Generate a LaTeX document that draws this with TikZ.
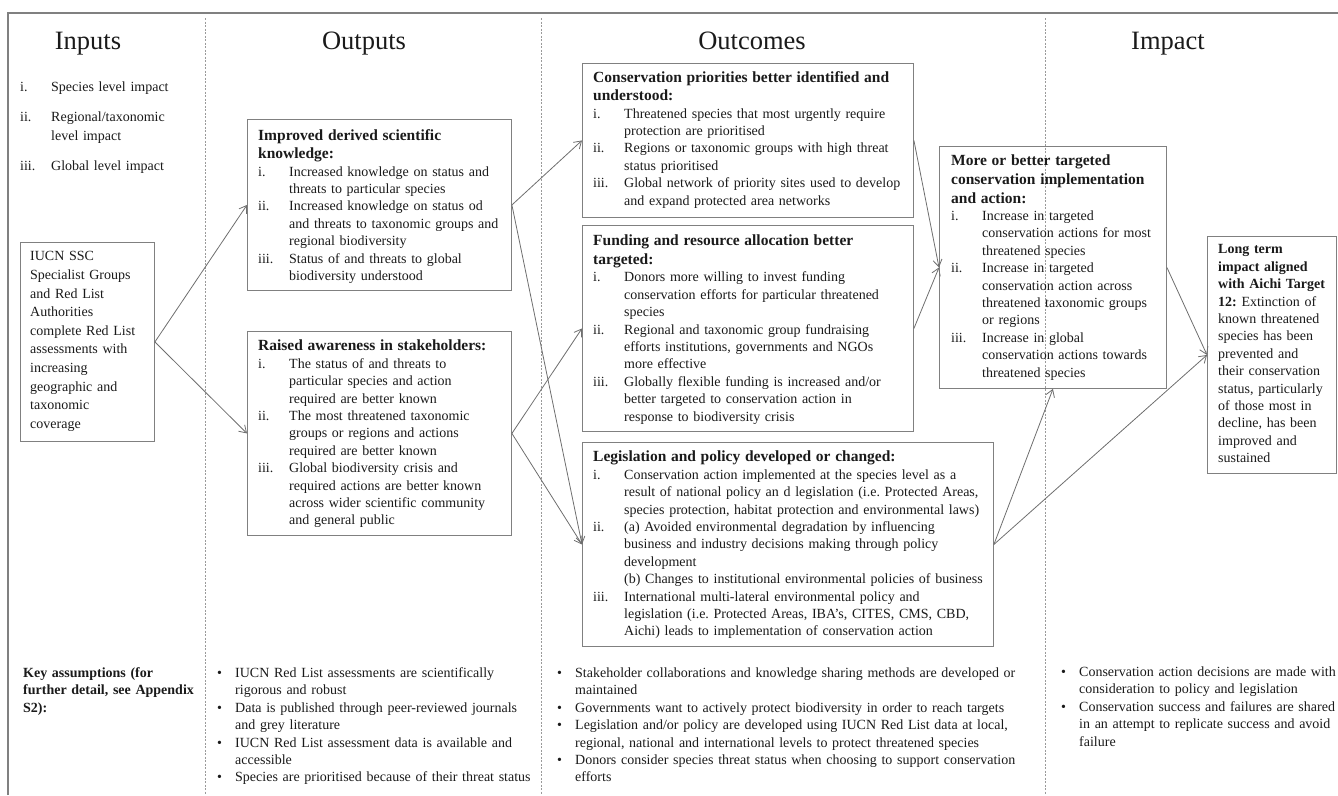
\documentclass[tikz,border=0pt]{standalone}
\usepackage{fontspec}
\setmainfont{Liberation Serif}
\usetikzlibrary{arrows.meta}
\definecolor{boxgrey}{HTML}{808080}
\definecolor{arrgrey}{HTML}{6E6E6E}
\definecolor{sepgrey}{HTML}{9A9A9A}
\definecolor{ink}{HTML}{1A1A1A}
\setlength{\parindent}{0pt}
\frenchspacing
\newcommand{\bodyf}{\fontsize{14}{17.4}\selectfont}
\newcommand{\headf}{\fontsize{15.5}{18.6}\selectfont\bfseries}
\newcommand{\titlef}{\fontsize{26.5}{30}\selectfont}
\newcommand{\lbl}[1]{\makebox[31pt][l]{#1}}
\newcommand{\blt}{\makebox[18pt][l]{\textbullet}}
\newcommand{\bind}{\hspace*{18pt}}

\begin{document}
\begin{tikzpicture}[x=1pt, y=-1pt, >={Straight Barb[length=7pt,width=9pt]},
  box/.style={draw=boxgrey, line width=0.9pt, inner sep=0pt, anchor=north west},
  txt/.style={inner sep=0pt, anchor=north west, text width=#1, align=left, font=\bodyf, text=ink},
  txt/.default=600,
  flow/.style={draw=arrgrey, line width=0.8pt, ->},
  sep/.style={draw=sepgrey, line width=0.7pt, dash pattern=on 2pt off 1.5pt},
  title/.style={anchor=base, font=\titlef, text=ink}]
  \useasboundingbox (0,0) rectangle (1338,795);
  \draw[boxgrey, line width=1.2pt] (8,795) -- (8,13) -- (1338,13);
  \draw[sep] (205,18) -- (205,795);
  \draw[sep] (541,18) -- (541,795);
  \draw[sep] (1045,18) -- (1045,795);

  \node[title] (tin) at (88,49) {Inputs};
  \node[title] (tout) at (364,49) {Outputs};
  \node[title] (tocm) at (752,49) {Outcomes};
  \node[title] (timp) at (1168,49) {Impact};

  \node[txt, font={\fontsize{14}{19}\selectfont}] (lvl) at (20,81.5) {\lbl{i.}Species level impact\\[11pt]
    \lbl{ii.}Regional/taxonomic\\ \lbl{}level impact\\[11pt]
    \lbl{iii.}Global level impact};

  \node[box, minimum width=134, minimum height=199] (iucn) at (20,242) {};
  \node[box, minimum width=264, minimum height=171] (impr) at (247,119) {};
  \node[box, minimum width=264, minimum height=204] (rais) at (247,331) {};
  \node[box, minimum width=331, minimum height=154] (cons) at (582,63) {};
  \node[box, minimum width=331, minimum height=206] (fund) at (582,225) {};
  \node[box, minimum width=411, minimum height=204] (legi) at (582,442) {};
  \node[box, minimum width=227, minimum height=242] (more) at (939,146) {};
  \node[box, minimum width=129, minimum height=237] (long) at (1207,236) {};

  \node[txt, font={\fontsize{14}{18.6}\selectfont}] (iucnT) at (30,251.5) {IUCN SSC\\ Specialist Groups\\
    and Red List\\ Authorities\\ complete Red List\\ assessments with\\ increasing\\
    geographic and\\ taxonomic\\ coverage};

  \node[txt] (imprT) at (258,129) {{\headf Improved derived scientific\\ knowledge:\par}
    \lbl{i.}Increased knowledge on status and\\ \lbl{}threats to particular species\\
    \lbl{ii.}Increased knowledge on status od\\ \lbl{}and threats to taxonomic groups and\\ \lbl{}regional biodiversity\\
    \lbl{iii.}Status of and threats to global\\ \lbl{}biodiversity understood};

  \node[txt] (raisT) at (258,340) {{\headf Raised awareness in stakeholders:\par}
    \lbl{i.}The status of and threats to\\ \lbl{}particular species and action\\ \lbl{}required are better known\\
    \lbl{ii.}The most threatened taxonomic\\ \lbl{}groups or regions and actions\\ \lbl{}required are better known\\
    \lbl{iii.}Global biodiversity crisis and\\ \lbl{}required actions are better known\\
    \lbl{}across wider scientific community\\ \lbl{}and general public};

  \node[txt] (consT) at (593,71) {{\headf Conservation priorities better identified and\\ understood:\par}
    \lbl{i.}Threatened species that most urgently require\\ \lbl{}protection are prioritised\\
    \lbl{ii.}Regions or taxonomic groups with high threat\\ \lbl{}status prioritised\\
    \lbl{iii.}Global network of priority sites used to develop\\ \lbl{}and expand protected area networks};

  \node[txt] (fundT) at (593,235) {{\headf Funding and resource allocation better\\ targeted:\par}
    \lbl{i.}Donors more willing to invest funding\\ \lbl{}conservation efforts for particular threatened\\ \lbl{}species\\
    \lbl{ii.}Regional and taxonomic group fundraising\\ \lbl{}efforts institutions, governments and NGOs\\ \lbl{}more effective\\
    \lbl{iii.}Globally flexible funding is increased and/or\\ \lbl{}better targeted to conservation action in\\ \lbl{}response to biodiversity crisis};

  \node[txt] (legiT) at (593,451) {{\headf Legislation and policy developed or changed:\par}
    \lbl{i.}Conservation action implemented at the species level as a\\
    \lbl{}result of national policy an d legislation (i.e. Protected Areas,\\
    \lbl{}species protection, habitat protection and environmental laws)\\
    \lbl{ii.}(a) Avoided environmental degradation by influencing\\
    \lbl{}business and industry decisions making through policy\\ \lbl{}development\\
    \lbl{}(b) Changes to institutional environmental policies of business\\
    \lbl{iii.}International multi-lateral environmental policy and\\
    \lbl{}legislation (i.e. Protected Areas, IBA’s, CITES, CMS, CBD,\\
    \lbl{}Aichi) leads to implementation of conservation action};

  \node[txt] (moreT) at (951,155) {{\headf More or better targeted\\ conservation implementation\\ and action:\par}
    \lbl{i.}Increase in targeted\\ \lbl{}conservation actions for most\\ \lbl{}threatened species\\
    \lbl{ii.}Increase in targeted\\ \lbl{}conservation action across\\ \lbl{}threatened taxonomic groups\\ \lbl{}or regions\\
    \lbl{iii.}Increase in global\\ \lbl{}conservation actions towards\\ \lbl{}threatened species};

  \node[txt] (longT) at (1218,244.5) {\textbf{Long term\\ impact aligned\\ with Aichi Target\\ 12:} Extinction of\\
    known threatened\\ species has been\\ prevented and\\ their conservation\\ status, particularly\\
    of those most in\\ decline, has been\\ improved and\\ sustained};

  \node[txt] (keyT) at (23,667.5) {\textbf{Key assumptions (for\\ further detail, see Appendix\\ S2):}};

  \node[txt] (asmOut) at (217,667.5) {\blt IUCN Red List assessments are scientifically\\ \bind rigorous and robust\\
    \blt Data is published through peer-reviewed journals\\ \bind and grey literature\\
    \blt IUCN Red List assessment data is available and\\ \bind accessible\\
    \blt Species are prioritised because of their threat status};

  \node[txt] (asmOcm) at (557,667.5) {\blt Stakeholder collaborations and knowledge sharing methods are developed or\\ \bind maintained\\
    \blt Governments want to actively protect biodiversity in order to reach targets\\
    \blt Legislation and/or policy are developed using IUCN Red List data at local,\\
    \bind regional, national and international levels to protect threatened species\\
    \blt Donors consider species threat status when choosing to support conservation\\ \bind efforts};

  \node[txt] (asmImp) at (1061,666.5) {\blt Conservation action decisions are made with\\ \bind consideration to policy and legislation\\
    \blt Conservation success and failures are shared\\ \bind in an attempt to replicate success and avoid\\ \bind failure};

  \draw[flow] (iucn.east) -- (impr.west);
  \draw[flow] (iucn.east) -- (rais.west);
  \draw[flow] (impr.east) -- (cons.west);
  \draw[flow] (impr.east) -- (legi.west);
  \draw[flow] (rais.east) -- (fund.west);
  \draw[flow] (rais.east) -- (legi.west);
  \draw[flow] (cons.east) -- (more.west);
  \draw[flow] (fund.east) -- (more.west);
  \draw[flow] (legi.east) -- (more.south);
  \draw[flow] (legi.east) -- (long.west);
  \draw[flow] (more.east) -- (long.west);
\end{tikzpicture}
\end{document}
